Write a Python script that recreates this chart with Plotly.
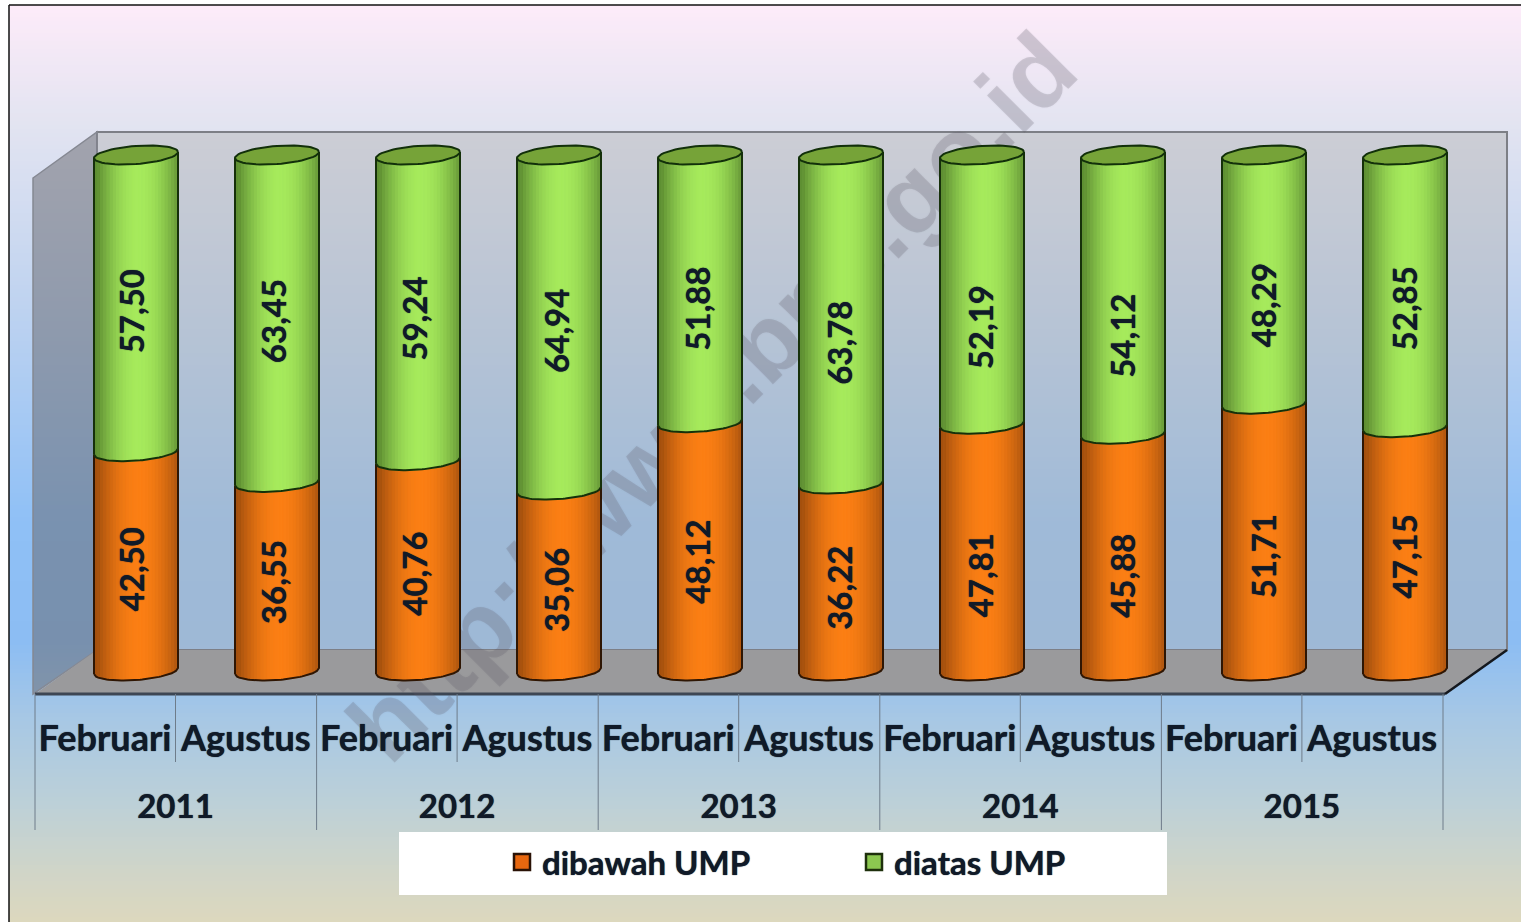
import math
import plotly.graph_objects as go

months = ["Februari", "Agustus"] * 5
years = ["2011", "2012", "2013", "2014", "2015"]
below_ump = [42.50, 36.55, 40.76, 35.06, 48.12, 36.22, 47.81, 45.88, 51.71, 47.15]
above_ump = [57.50, 63.45, 59.24, 64.94, 51.88, 63.78, 52.19, 54.12, 48.29, 52.85]
below_name = "dibawah UMP"
above_name = "diatas UMP"

W, H = 1521, 922
X0_PX, X_STEP = 136.0, 141.0
Y0_PX, Y_STEP = 671.0, 5.16
R = 42.0 / X_STEP
SEMI = 9.0 / Y_STEP
TILT = 3.0 / Y_STEP
FONT = "Lato"
INK = "#101a28"
HALO = "0 0 1px #101a28"
# downward pixel nudges of the value labels
label_drop_below = [8, 5, 8, 9, 15, 10, 28, 23, 19, 7]
label_drop_above = [8, 2, 11, 8, 20, 23, 38, 41, 26, 17]


def px(x):
    return x / W


def py(y):
    return 1 - y / H


def to_x(pixel):
    return (pixel - X0_PX) / X_STEP


def hexmix(a, b, t):
    ca = [int(a[i:i + 2], 16) for i in (1, 3, 5)]
    cb = [int(b[i:i + 2], 16) for i in (1, 3, 5)]
    return "rgb(%d,%d,%d)" % tuple(round(p + (q - p) * t) for p, q in zip(ca, cb))


def polygon(points, **kw):
    d = "M " + " L ".join(f"{px(x):.5f},{py(y):.5f}" for x, y in points) + " Z"
    return dict(type="path", path=d, xref="paper", yref="paper", layer="below", **kw)


def line(x0, y0, x1, y1, color, width):
    return dict(type="line", xref="paper", yref="paper", layer="below",
                x0=px(x0), y0=py(y0), x1=px(x1), y1=py(y1),
                line=dict(color=color, width=width))


shapes = []
# page gradient
stops = [(5, "#fdebf9"), (120, "#e3e4f1"), (300, "#bfd3f0"), (520, "#8fc0f6"), (640, "#8cbdf3"),
         (720, "#a8c8e4"), (800, "#bcd0d8"), (870, "#d0d5c8"), (922, "#ddd8bd")]
for yy in range(5, H, 4):
    for (a, ca), (b, cb) in zip(stops, stops[1:]):
        if a <= yy <= b:
            col = hexmix(ca, cb, (yy - a) / (b - a))
            break
    shapes.append(dict(type="rect", xref="paper", yref="paper", layer="below",
                       x0=px(9), x1=1, y0=py(yy), y1=py(min(yy + 4, H)),
                       fillcolor=col, line=dict(width=0)))
# frame
shapes.append(line(9, 5, W, 5, "#101010", 1.5))
shapes.append(line(9, 5, 9, H, "#101010", 1.5))
# chart walls
shapes.append(polygon([(97, 132), (1507, 132), (1507, 650), (97, 650)],
                      fillcolor="rgba(180,180,180,0.45)", line=dict(color="#7d7f86", width=2)))
shapes.append(polygon([(33, 178), (97, 132), (97, 650), (33, 694)],
                      fillcolor="rgba(100,100,105,0.5)", line=dict(color="#858892", width=1.5)))
shapes.append(polygon([(35, 694), (97, 650), (1507, 650), (1445, 694)],
                      fillcolor="#9a9a9c", line=dict(width=0)))
shapes.append(line(35, 694, 1445, 694, "#3d4653", 3))
shapes.append(line(1445, 694, 1507, 650, "#14181e", 2.5))
# category dividers
for k in range(6):
    xp = 35 + 281.6 * k
    shapes.append(line(xp, 694, xp, 830, "#6e7c8a", 1))
for k in range(5):
    xp = 175.5 + 281.6 * k
    shapes.append(line(xp, 694, xp, 762, "#6e7c8a", 1))
# watermark, behind the cylinders
WM_FONT = dict(family="Liberation Sans", size=100, weight="bold", shadow="0 0 2px rgba(95,90,105,0.3)")
shapes.append(dict(type="rect", xref="paper", yref="paper", layer="below",
                   x0=px(605), x1=px(805), y0=py(490), y1=py(290),
                   fillcolor="rgba(0,0,0,0)", line=dict(width=0),
                   label=dict(text="http://www.bps.go.id", textangle=-45, textposition="middle center",
                              font=dict(color="rgba(95,90,105,0.22)", **WM_FONT))))
# legend panel
shapes.append(dict(type="rect", xref="paper", yref="paper", layer="below",
                   x0=px(399), x1=px(1167), y0=py(895), y1=py(832),
                   fillcolor="white", line=dict(width=0)))

positions = list(range(len(below_ump)))
fig = go.Figure()
fig.add_trace(go.Bar(x=positions, y=below_ump, width=2 * R * 0.9, marker=dict(color="#f57a12", line=dict(width=0)),
                     name=below_name, showlegend=False))
fig.add_trace(go.Bar(x=positions, y=above_ump, width=2 * R * 0.9, marker=dict(color="#95d64f", line=dict(width=0)),
                     name=above_name, showlegend=False))


def arc(level, t):
    return level - SEMI * math.sqrt(max(0.0, 1 - t * t)) + TILT * t


STRIPS = 26
def shade_traces(lows, highs, edge, centre, name):
    for s in range(STRIPS):
        t0 = -1 + 2 * s / STRIPS
        t1 = -1 + 2 * (s + 1) / STRIPS
        tm = (t0 + t1) / 2 - 0.08
        level = max(0.0, 1 - tm * tm) ** 1.1
        col = hexmix(edge, centre, level)
        xs, ys = [], []
        for p, lo, hi in zip(positions, lows, highs):
            xs += [p + t0 * R, p + t1 * R, p + t1 * R, p + t0 * R, p + t0 * R, None]
            ys += [arc(lo, t0), arc(lo, t1), arc(hi, t1), arc(hi, t0), arc(lo, t0), None]
        fig.add_trace(go.Scatter(x=xs, y=ys, mode="lines", fill="toself", fillcolor=col,
                                 line=dict(color=col, width=1), hoverinfo="skip", showlegend=False,
                                 name=name))


tops = [a + b for a, b in zip(below_ump, above_ump)]
shade_traces([0] * len(below_ump), below_ump, "#a4500e", "#fb7f14", below_name)
shade_traces(below_ump, tops, "#5f8f33", "#a6ea5c", above_name)

TS = [-1 + 2 * k / 40 for k in range(41)]


def outline(lows, highs, color, name):
    xs, ys = [], []
    for p, lo, hi in zip(positions, lows, highs):
        for t in TS:
            xs.append(p + t * R)
            ys.append(arc(lo, t))
        xs += [p + R, None, p - R, p - R, None]
        ys += [arc(hi, 1), None, arc(lo, -1), arc(hi, -1), None]
    fig.add_trace(go.Scatter(x=xs, y=ys, mode="lines", line=dict(color=color, width=2),
                             hoverinfo="skip", showlegend=False, name=name))


outline([0] * len(below_ump), below_ump, "#2e1604", below_name)
outline(below_ump, tops, "#16300a", above_name)

# top caps
ex, ey = [], []
for p, top in zip(positions, tops):
    for k in range(61):
        th = 2 * math.pi * k / 60
        ex.append(p + R * math.cos(th))
        ey.append(top + SEMI * math.sin(th) + TILT * math.cos(th))
    ex.append(None)
    ey.append(None)
fig.add_trace(go.Scatter(x=ex, y=ey, mode="lines", fill="toself", fillcolor="#76a338",
                         line=dict(color="#12300a", width=2), hoverinfo="skip", showlegend=False,
                         name=above_name))

# legend entries
fig.add_trace(go.Scatter(x=[None], y=[None], mode="markers", name=below_name,
                         marker=dict(symbol="square", size=20, color="#e8670f", line=dict(color="#2a1206", width=2.5))))
fig.add_trace(go.Scatter(x=[None], y=[None], mode="markers", name=above_name,
                         marker=dict(symbol="square", size=20, color="#8cc850", line=dict(color="#1e300c", width=2.5))))

annotations = []
for p, lo, hi, d0, d1 in zip(positions, below_ump, above_ump, label_drop_below, label_drop_above):
    for base, val, drop in ((0.0, lo, d0), (lo, hi, d1)):
        annotations.append(dict(x=p, y=base + val / 2, xshift=-5 + 0.45 * p, yshift=-drop,
                                text=f"{val:.2f}".replace(".", ","),
                                textangle=-90, showarrow=False,
                                font=dict(family=FONT, size=33, color=INK, weight="bold", shadow=HALO)))

fig.update_layout(
    width=W, height=H, margin=dict(l=0, r=0, t=0, b=0, pad=0),
    paper_bgcolor="white", plot_bgcolor="rgba(0,0,0,0)",
    barmode="stack", shapes=shapes, annotations=annotations,
    xaxis=dict(range=[-X0_PX / X_STEP, (W - X0_PX) / X_STEP], domain=[0, 1], anchor="free",
               position=py(714), tickmode="array", tickvals=[to_x(105 + 140.8 * p) for p in positions],
               ticktext=months, ticks="", showgrid=False, zeroline=False, showline=False,
               tickfont=dict(family=FONT, size=36, color=INK, weight="bold", shadow=HALO), automargin=False,
               tickangle=0),
    xaxis2=dict(range=[-X0_PX / X_STEP, (W - X0_PX) / X_STEP], domain=[0, 1], anchor="free",
                overlaying="x", position=py(784), tickmode="array",
                tickvals=[to_x(175.5 + 281.6 * k) for k in range(len(years))], ticktext=years,
                ticks="", showgrid=False, zeroline=False, showline=False,
                tickfont=dict(family=FONT, size=33, color=INK, weight="bold", shadow=HALO), automargin=False,
                tickangle=0),
    yaxis=dict(range=[(Y0_PX - H) / Y_STEP, Y0_PX / Y_STEP], domain=[0, 1], visible=False, fixedrange=True),
    legend=dict(orientation="h", x=px(502), y=py(862), xanchor="left", yanchor="middle", traceorder="normal",
                bgcolor="rgba(0,0,0,0)", entrywidth=307, entrywidthmode="pixels", itemsizing="trace",
                font=dict(family=FONT, size=33, color=INK, weight="bold", shadow=HALO)),
    showlegend=True,
)
fig.add_trace(go.Scatter(x=[None], y=[None], xaxis="x2", yaxis="y", mode="markers", showlegend=False, hoverinfo="skip"))

fig.write_html("out.html", config={"displayModeBar": False},
               post_script="document.body.style.margin='0';document.documentElement.style.overflow='hidden';")
